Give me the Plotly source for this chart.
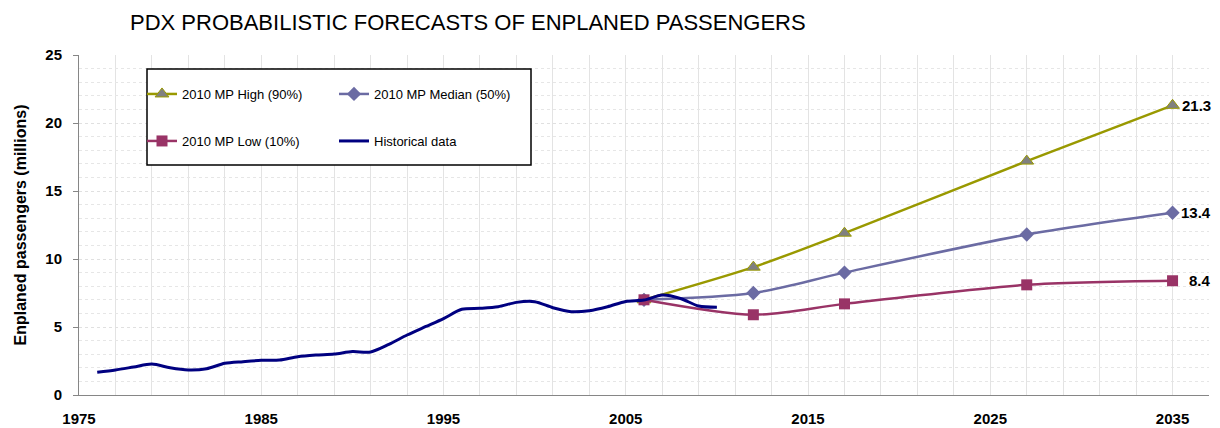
import plotly.graph_objects as go

# ---- data ----
hist_years = list(range(1976, 2011))
hist_vals = [1.67, 1.84, 2.06, 2.28, 2.00, 1.84, 1.93, 2.33, 2.45, 2.55,
             2.57, 2.82, 2.94, 3.01, 3.19, 3.16, 3.72, 4.41, 5.02, 5.62,
             6.30, 6.37, 6.49, 6.81, 6.86, 6.42, 6.13, 6.20, 6.49, 6.88,
             6.98, 7.35, 7.10, 6.54, 6.45]

fc_years = [2006, 2012, 2017, 2027, 2035]
high_vals = [7.0, 9.4, 11.9, 17.2, 21.3]
median_vals = [7.0, 7.5, 9.0, 11.8, 13.4]
low_vals = [7.0, 5.9, 6.7, 8.1, 8.4]

x_ticks = [1975, 1985, 1995, 2005, 2015, 2025, 2035]
y_ticks = [0, 5, 10, 15, 20, 25]

FONT = "Liberation Sans, Arial, sans-serif"
C_HIGH = "#999900"
C_MED = "#6B6BA3"
C_LOW = "#993366"
C_HIST = "#000080"

fig = go.Figure()

fig.add_trace(go.Scatter(
    x=fc_years, y=high_vals, name="2010 MP High (90%)", mode="lines+markers",
    line=dict(color=C_HIGH, width=2.5, shape="spline", smoothing=0.8),
    marker=dict(symbol="triangle-up", size=12, color="#808080",
                line=dict(color=C_HIGH, width=1)),
    legend="legend"))
fig.add_trace(go.Scatter(
    x=fc_years, y=median_vals, name="2010 MP Median (50%)", mode="lines+markers",
    line=dict(color=C_MED, width=2.5, shape="spline", smoothing=0.8),
    marker=dict(symbol="diamond", size=11, color=C_MED),
    legend="legend2"))
fig.add_trace(go.Scatter(
    x=fc_years, y=low_vals, name="2010 MP Low (10%)", mode="lines+markers",
    line=dict(color=C_LOW, width=2.5, shape="spline", smoothing=0.8),
    marker=dict(symbol="square", size=11, color=C_LOW),
    legend="legend3"))
fig.add_trace(go.Scatter(
    x=hist_years, y=hist_vals, name="Historical data", mode="lines",
    line=dict(color=C_HIST, width=3, shape="spline", smoothing=0.8),
    legend="legend4"))

# data labels at final forecast points
for vals in (high_vals, median_vals, low_vals):
    fig.add_annotation(x=fc_years[-1], y=vals[-1], text=f"{vals[-1]:.1f}",
                       showarrow=False, xanchor="right", xshift=40,
                       font=dict(family=FONT, size=15, color="black", weight="bold"))

# plot area pixel geometry
L, R, T, B = 79, 11, 55, 33
W, H = 1220, 428
pw, ph = W - L - R, H - T - B

def px(x):
    return (x - L) / pw

def py(y):
    return (H - B - y) / ph

# legend box
fig.add_shape(type="rect", xref="paper", yref="paper",
              x0=px(147), x1=px(531), y0=py(165), y1=py(69),
              line=dict(color="black", width=1.5), fillcolor="white", layer="above")

leg_common = dict(bgcolor="rgba(0,0,0,0)", borderwidth=0, itemwidth=30,
                  font=dict(family=FONT, size=13, color="black"),
                  xanchor="left", yanchor="middle", xref="paper", yref="paper",
                  itemclick=False, itemdoubleclick=False)
fig.update_layout(
    legend=dict(x=px(142), y=py(94), **leg_common),
    legend2=dict(x=px(334), y=py(94), **leg_common),
    legend3=dict(x=px(142), y=py(141), **leg_common),
    legend4=dict(x=px(334), y=py(141), **leg_common),
)

fig.update_layout(
    width=W, height=H,
    margin=dict(l=L, r=R, t=T, b=B, autoexpand=False),
    paper_bgcolor="white", plot_bgcolor="white",
    hovermode=False,
    showlegend=True,
    title=dict(text="PDX PROBABILISTIC FORECASTS OF ENPLANED PASSENGERS",
               x=130 / W, xanchor="left", xref="container",
               y=1 - 22 / H, yanchor="middle", yref="container",
               font=dict(family=FONT, size=22, color="black")),
    xaxis=dict(range=[1975, 2037], tickmode="array", tickvals=x_ticks,
               ticktext=[str(t) for t in x_ticks],
               showgrid=True, gridcolor="#E3E3E3", gridwidth=1,
               minor=dict(tick0=1975, dtick=2, showgrid=True, gridcolor="#E3E3E3",
                          gridwidth=1, ticks=""),
               ticks="", ticklabelstandoff=10,
               showline=True, linecolor="#868686", linewidth=1,
               zeroline=False,
               tickfont=dict(family=FONT, size=15, color="black", weight="bold")),
    yaxis=dict(range=[0, 25], tickmode="array", tickvals=y_ticks,
               showgrid=True, gridcolor="#E0E0E0", gridwidth=1, griddash="dot",
               minor=dict(dtick=1, showgrid=True, gridcolor="#E6E6E6",
                          gridwidth=1, griddash="dot", ticks=""),
               ticks="outside", ticklen=5, tickcolor="#868686",
               ticklabelstandoff=8,
               showline=True, linecolor="#868686", linewidth=1,
               zeroline=False,
               tickfont=dict(family=FONT, size=15, color="black", weight="bold"),
               title=dict(text="Enplaned passengers (millions)", standoff=14,
                          font=dict(family=FONT, size=16, color="black", weight="bold"))),
)

fig.write_html("out.html", config={"displayModeBar": False},
               post_script="document.body.style.margin='0';document.body.style.overflow='hidden';")
